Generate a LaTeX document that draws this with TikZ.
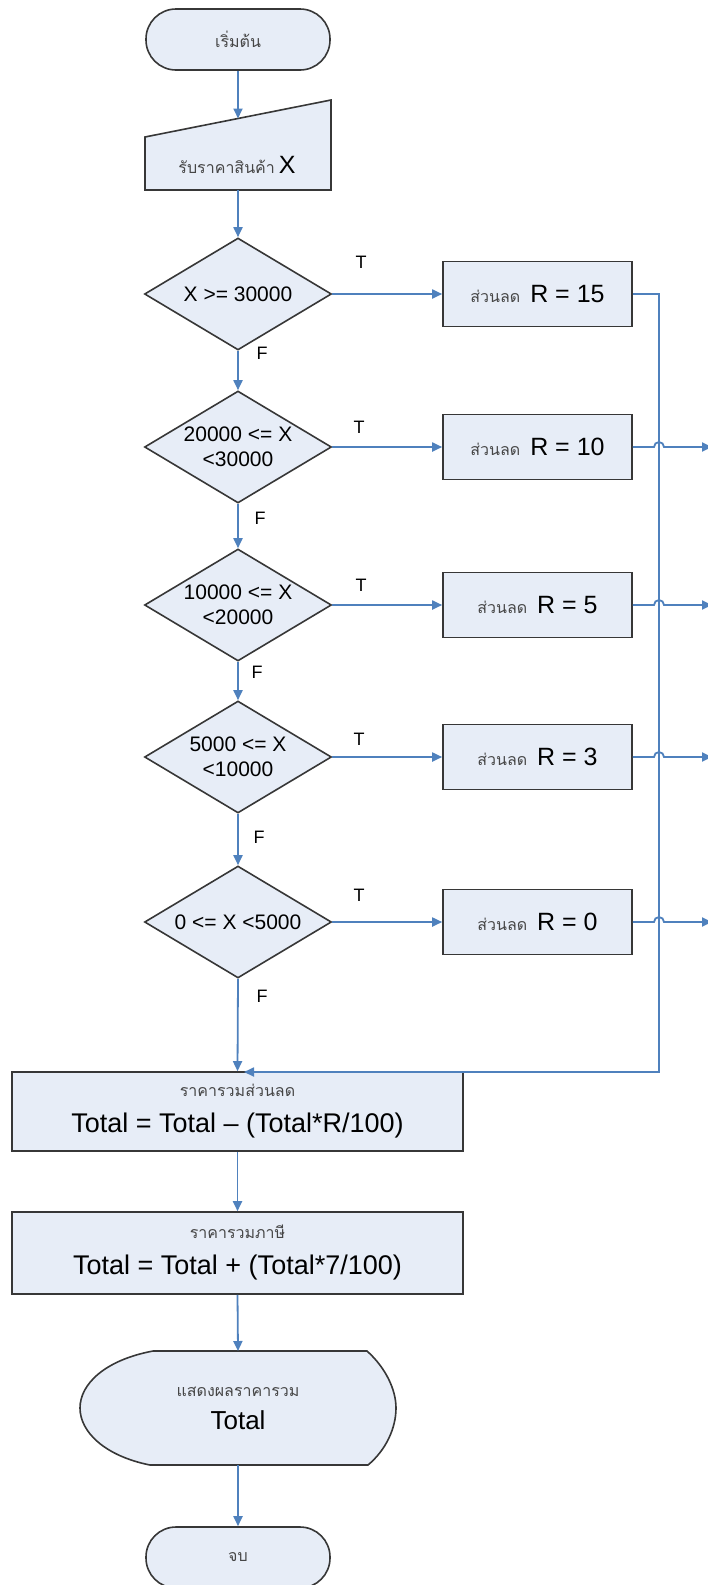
\documentclass[tikz,border=0pt]{standalone}
\usepackage{fontspec}
\setmainfont{Liberation Sans}
\newfontfamily\thai[Script=Thai]{Loma}
\usetikzlibrary{arrows.meta,shapes.geometric,calc}

\definecolor{shapefill}{RGB}{231,237,247}
\definecolor{shapeline}{RGB}{55,55,55}
\definecolor{flowblue}{RGB}{79,129,189}
\definecolor{thaigray}{RGB}{70,70,70}

% small Thai caption and larger Latin text
\newcommand{\tsm}[1]{{\thai\fontsize{16}{19}\selectfont\color{thaigray}#1}}
\newcommand{\lat}[1]{{\fontsize{25}{30}\selectfont #1}}

\begin{document}
\begin{tikzpicture}[x=1pt,y=-1pt,
  base/.style={draw=shapeline, line width=1.6pt, fill=shapefill, inner sep=0pt, align=center},
  term/.style={base, rectangle, rounded corners=30pt, minimum width=184pt, minimum height=61pt},
  proc/.style={base, rectangle, minimum width=189pt, minimum height=65pt},
  wide/.style={base, rectangle, minimum width=451pt, font=\fontsize{27}{36}\selectfont},
  dec/.style={base, diamond, shape aspect=1.67, minimum width=187pt, minimum height=112pt,
    font=\fontsize{21}{25}\selectfont},
  flow/.style={draw=flowblue, line width=1.8pt, -{Triangle[length=10pt,width=9pt]}},
  lbl/.style={font=\fontsize{18}{21}\selectfont, inner sep=0pt}
]
\useasboundingbox (0,0) rectangle (708,1585);

% start
\node[term] (start) at (238,39.5) {\tsm{เริ่มต้น}};

% manual input
\draw[base] (145,137) -- (331,100) -- (331,190) -- (145,190) -- cycle;
\node[inner sep=0pt] (inp) at (237,165) {\tsm{รับราคาสินค้า}\hspace{4pt}\lat{X}};
\coordinate (inptop) at (238,118.5);
\coordinate (inpbot) at (238,190);

% decisions
\node[dec] (d1) at (238,294) {X >= 30000};
\node[dec] (d2) at (238,447) {20000 <= X\\<30000};
\node[dec] (d3) at (238,605) {10000 <= X\\<20000};
\node[dec] (d4) at (238,757) {5000 <= X\\<10000};
\node[dec] (d5) at (238,922) {0 <= X <5000};

% discount rates
\node[proc] (b1) at (537.5,294) {\tsm{ส่วนลด}\hspace{10pt}\lat{R = 15}};
\node[proc] (b2) at (537.5,447) {\tsm{ส่วนลด}\hspace{10pt}\lat{R = 10}};
\node[proc] (b3) at (537.5,605) {\tsm{ส่วนลด}\hspace{10pt}\lat{R = 5}};
\node[proc] (b4) at (537.5,757) {\tsm{ส่วนลด}\hspace{10pt}\lat{R = 3}};
\node[proc] (b5) at (537.5,922) {\tsm{ส่วนลด}\hspace{10pt}\lat{R = 0}};

% totals
\node[wide, minimum height=79pt] (tot1) at (237.5,1111.5)
  {\tsm{ราคารวมส่วนลด}\\Total = Total – (Total*R/100)};
\node[wide, minimum height=82pt] (tot2) at (237.5,1253)
  {\tsm{ราคารวมภาษี}\\Total = Total + (Total*7/100)};

% display
\draw[base] (153,1351) -- (367,1351)
  .. controls (386,1368) and (396,1390) .. (396,1408)
  .. controls (396,1428) and (386,1450) .. (368,1465)
  -- (150,1465)
  .. controls (105,1456) and (80,1432) .. (80,1408)
  .. controls (80,1384) and (105,1360) .. (153,1351) -- cycle;
\node[inner sep=0pt, minimum width=316pt, minimum height=114pt, align=center,
  font=\fontsize{26}{33}\selectfont] (disp) at (238,1408)
  {\tsm{แสดงผลราคารวม}\\Total};

% end
\node[term] (end) at (238,1557.5) {\tsm{จบ}};

% main flow
\draw[flow] (start) -- (inptop);
\draw[flow] (inpbot) -- (d1.north);
\draw[flow] (d1.south) -- (d2.north);
\draw[flow] (d2.south) -- (d3.north);
\draw[flow] (d3.south) -- (d4.north);
\draw[flow] (d4.south) -- (d5.north);
\draw[flow] (d5.south) -- (tot1.north);
\draw[flow] (tot1.south) -- (tot2.north);
\draw[flow] (tot2.south) -- (disp.south |- 0,1351);
\draw[flow] (disp.south) -- (end.north);

% true branches
\draw[flow] (d1.east) -- (b1.west);
\draw[flow] (d2.east) -- (b2.west);
\draw[flow] (d3.east) -- (b3.west);
\draw[flow] (d4.east) -- (b4.west);
\draw[flow] (d5.east) -- (b5.west);

% return rail from the first rate into the total
\coordinate (railtop) at (659,294);
\coordinate (railbot) at (659,1072);
\coordinate (join) at (244,1072);
\draw[flow] (b1.east) -- (railtop) -- (railbot) -- (join);

% outgoing lines that hop over the rail
\foreach \i/\y in {2/447,3/605,4/757,5/922}{
  \coordinate (exit\i) at (712,\y);
  \draw[flow] (b\i.east) -- (654,\y) arc (180:360:5) -- (exit\i);
}

% branch labels
\node[lbl] (t1) at (361,262) {T};
\node[lbl] (t2) at (359,427) {T};
\node[lbl] (t3) at (361,585) {T};
\node[lbl] (t4) at (359,739) {T};
\node[lbl] (t5) at (359,895) {T};
\node[lbl] (f1) at (262,353) {F};
\node[lbl] (f2) at (260,518) {F};
\node[lbl] (f3) at (257,672) {F};
\node[lbl] (f4) at (259,837) {F};
\node[lbl] (f5) at (262,996) {F};
\end{tikzpicture}
\end{document}
